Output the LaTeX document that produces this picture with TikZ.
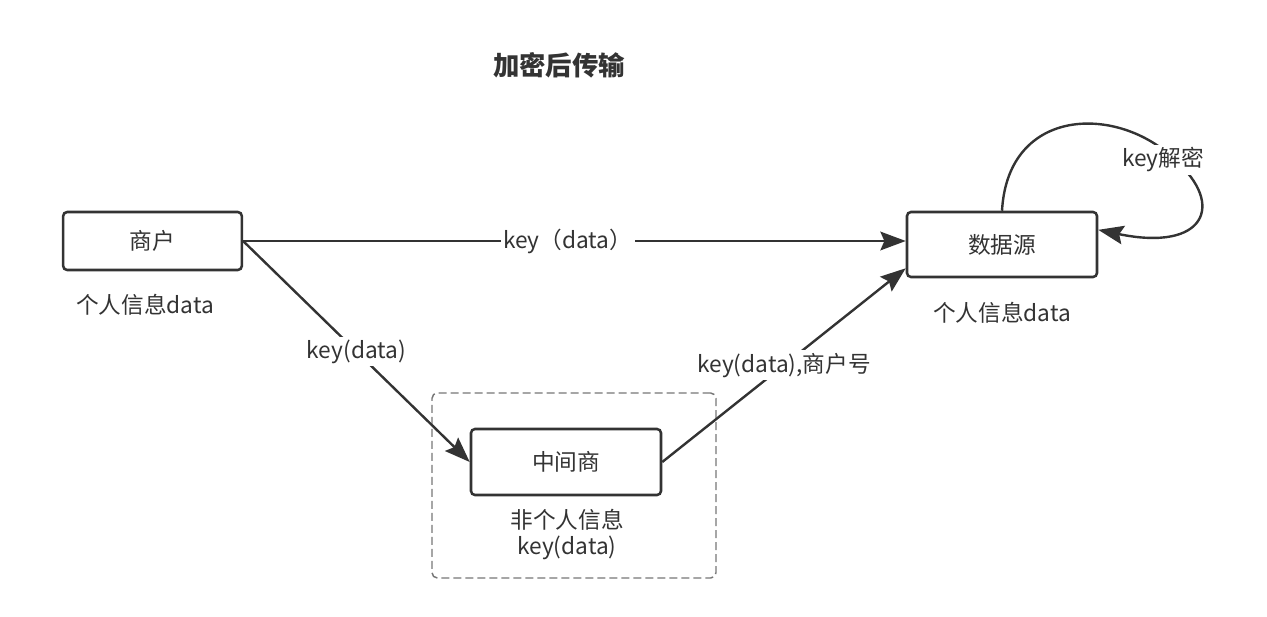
\documentclass[tikz,border=0pt]{standalone}
\usepackage{fontspec}
\setmainfont{Noto Sans CJK SC}
\usetikzlibrary{arrows.meta}
\definecolor{ink}{HTML}{333333}
\definecolor{dashgray}{HTML}{777777}
\begin{document}
\begin{tikzpicture}[x=0.75pt,y=-0.75pt,
 box/.style={draw=ink,line width=1.9pt,rounded corners=3pt,fill=white,text=ink,font=\fontsize{17}{20}\selectfont,inner sep=0pt},
 txt/.style={text=ink,font=\fontsize{17}{19}\selectfont,inner sep=1pt,align=center},
 lbl/.style={txt,fill=white,inner sep=2pt},
 conn/.style={draw=ink,line width=1.8pt,-{Stealth[length=19pt,width=14pt,inset=3pt]}}]
\useasboundingbox (0,0) rectangle (1267,617);
% title
\node[text=ink,font=\fontsize{19.8}{22}\selectfont\bfseries] (title) at (559,65) {加密后传输};
% group box
\node[draw=dashgray,dashed,dash pattern=on 6pt off 3pt,rounded corners=4pt,line width=1.1pt,minimum width=213pt,minimum height=138.75pt] (grp) at (574,485.5) {};
% boxes
\node[box,minimum width=134pt,minimum height=43.5pt] (m) at (152.5,241) {商户};
\node[box,minimum width=142.5pt,minimum height=49.5pt] (z) at (566,462) {中间商};
\node[box,minimum width=142.5pt,minimum height=48.75pt] (s) at (1002,244.5) {数据源};
% captions
\node[txt] (mcap) at (145,305) {个人信息data};
\node[txt] (scap) at (1002,313) {个人信息data};
\node[txt] (zcap) at (567,534.5) {非个人信息\\key(data)};
% connectors
\draw[conn] (m.east) -- (m.east -| s.west) node[lbl,pos=0.49] (l1) {key（data）};
\draw[conn] (m.east) -- (z.west) node[lbl,pos=0.5] (l2) {key(data)};
\draw[conn] (z.east) -- ([yshift=7.5pt]s.south west) node[lbl,pos=0.5] (l3) {key(data),商户号};
% self loop
\draw[conn] (s.north) .. controls (1008,105) and (1120,105) .. (1175,160)
  .. controls (1226,205) and (1205,252) .. ([yshift=11pt]s.east);
\node[lbl] (l4) at (1163,160) {key解密};
\end{tikzpicture}
\end{document}
